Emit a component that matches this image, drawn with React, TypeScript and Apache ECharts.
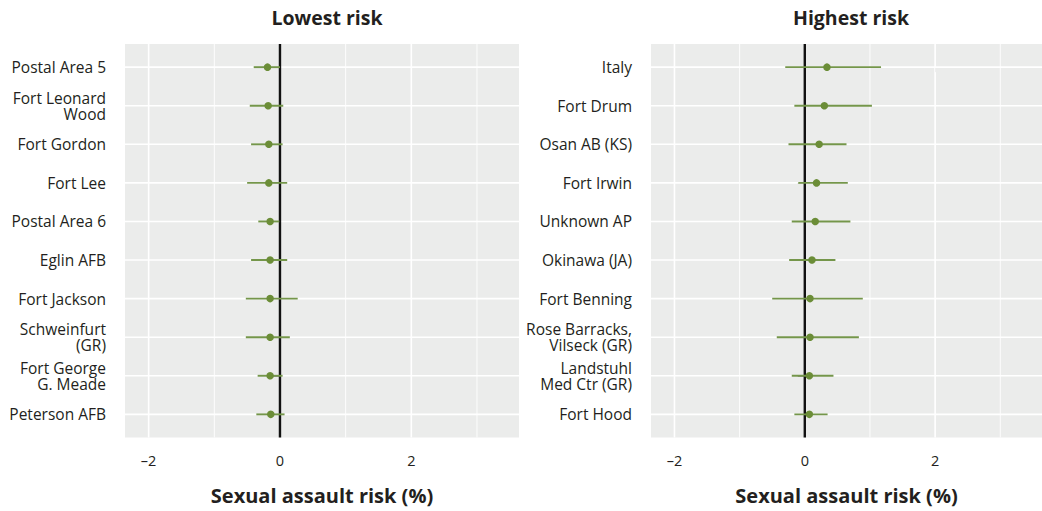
import React, { useEffect, useRef } from "react";
import * as echarts from "echarts";

const lowCategories = [
  "Postal Area 5",
  "Fort Leonard\nWood",
  "Fort Gordon",
  "Fort Lee",
  "Postal Area 6",
  "Eglin AFB",
  "Fort Jackson",
  "Schweinfurt\n(GR)",
  "Fort George\nG. Meade",
  "Peterson AFB",
];
const lowEstimate = [-0.19, -0.18, -0.17, -0.17, -0.15, -0.15, -0.15, -0.15, -0.15, -0.14];
const lowLower = [-0.4, -0.46, -0.44, -0.5, -0.33, -0.44, -0.52, -0.52, -0.34, -0.36];
const lowUpper = [0.0, 0.05, 0.04, 0.11, -0.01, 0.11, 0.27, 0.15, 0.04, 0.07];

const highCategories = [
  "Italy",
  "Fort Drum",
  "Osan AB (KS)",
  "Fort Irwin",
  "Unknown AP",
  "Okinawa (JA)",
  "Fort Benning",
  "Rose Barracks,\nVilseck (GR)",
  "Landstuhl\nMed Ctr (GR)",
  "Fort Hood",
];
const highEstimate = [0.34, 0.3, 0.22, 0.18, 0.16, 0.11, 0.08, 0.08, 0.07, 0.07];
const highLower = [-0.3, -0.16, -0.25, -0.1, -0.2, -0.24, -0.5, -0.43, -0.2, -0.16];
const highUpper = [1.17, 1.03, 0.64, 0.66, 0.7, 0.47, 0.89, 0.83, 0.44, 0.35];

const panelTitles = ["Lowest risk", "Highest risk"];
const xAxisTitle = "Sexual assault risk (%)";
const majorTicks = [-2, 0, 2];
const minorTicks = [-1, 1, 3];
const xMin = -2.36;
const xMax = 3.64;
const yMin = -0.6;
const yMax = 9.6;

const FONT = "'Open Sans', 'Noto Sans', sans-serif";
const TEXT = "#231f20";
const GREEN = "#6b8d37";
const BAR = "#74964a";
const BG = "#ebeceb";

function hLineSeries(idx: number, cats: string[]) {
  return {
    type: "custom",
    xAxisIndex: idx,
    yAxisIndex: idx,
    silent: true,
    z: 1,
    data: cats.map((_, i) => [0, i]),
    renderItem: (params: any, api: any) => {
      const cs = params.coordSys;
      const y = api.coord([0, api.value(1)])[1];
      return {
        type: "line",
        shape: { x1: cs.x, y1: y, x2: cs.x + cs.width, y2: y },
        style: { stroke: "#ffffff", lineWidth: 1.6 },
      };
    },
  };
}

function vLineSeries(idx: number, values: number[], width: number, color: string, z: number) {
  return {
    type: "custom",
    xAxisIndex: idx,
    yAxisIndex: idx,
    silent: true,
    z,
    data: values.map((v) => [v, 0]),
    renderItem: (params: any, api: any) => {
      const cs = params.coordSys;
      const x = api.coord([api.value(0), 0])[0];
      return {
        type: "line",
        shape: { x1: x, y1: cs.y, x2: x, y2: cs.y + cs.height },
        style: { stroke: color, lineWidth: width },
      };
    },
  };
}

function errorSeries(idx: number, lo: number[], hi: number[]) {
  return {
    type: "custom",
    xAxisIndex: idx,
    yAxisIndex: idx,
    silent: true,
    z: 4,
    data: lo.map((l, i) => [l, hi[i], i]),
    renderItem: (_params: any, api: any) => {
      const p1 = api.coord([api.value(0), api.value(2)]);
      const p2 = api.coord([api.value(1), api.value(2)]);
      return {
        type: "line",
        shape: { x1: p1[0], y1: p1[1], x2: p2[0], y2: p2[1] },
        style: { stroke: BAR, lineWidth: 1.9 },
      };
    },
  };
}

function pointSeries(idx: number, est: number[]) {
  return {
    type: "scatter",
    xAxisIndex: idx,
    yAxisIndex: idx,
    silent: true,
    z: 5,
    symbol: "circle",
    symbolSize: 7.5,
    itemStyle: { color: GREEN, opacity: 1 },
    data: est.map((v, i) => [v, i]),
  };
}

function xAxisFor(idx: number) {
  return {
    type: "value",
    gridIndex: idx,
    min: xMin,
    max: xMax,
    position: "bottom",
    offset: 4,
    splitLine: { show: false },
    axisLine: { show: false },
    axisTick: {
      show: true,
      customValues: majorTicks,
      length: 5,
      lineStyle: { color: "#333333", width: 1 },
    },
    axisLabel: {
      customValues: majorTicks,
      formatter: (v: number) => (v < 0 ? "\u2013" : "") + Math.abs(v),
      margin: 11,
      fontSize: 14.5,
      fontFamily: FONT,
      color: TEXT,
    },
    name: xAxisTitle,
    nameLocation: "middle",
    nameGap: 44,
    nameTextStyle: { fontSize: 20, fontWeight: "bold", fontFamily: FONT, color: TEXT },
  };
}

function yAxisFor(idx: number, cats: string[]) {
  const pos = cats.map((_, i) => i);
  return {
    type: "value",
    gridIndex: idx,
    min: yMin,
    max: yMax,
    inverse: true,
    splitLine: { show: false },
    axisLine: { show: false },
    axisTick: {
      show: true,
      customValues: pos,
      length: 7,
      lineStyle: { color: "#333333", width: 1 },
    },
    axisLabel: {
      customValues: pos,
      formatter: (v: number) => cats[Math.round(v)],
      margin: 19,
      fontSize: 15.5,
      lineHeight: 16,
      fontFamily: FONT,
      color: TEXT,
      align: "right",
    },
  };
}

export default function App() {
  const ref = useRef<HTMLDivElement>(null);
  useEffect(() => {
    document.body.style.margin = "0";
    if (!ref.current) return;
    const chart = echarts.init(ref.current, null, { renderer: "svg" });
    const titleStyle = { fontSize: 19.5, fontWeight: "bold", fontFamily: FONT, color: TEXT };
    chart.setOption({
      animation: false,
      backgroundColor: "#ffffff",
      title: [
        { text: panelTitles[0], left: 322, top: 2, textAlign: "center", textStyle: titleStyle },
        { text: panelTitles[1], left: 846, top: 2, textAlign: "center", textStyle: titleStyle },
      ],
      grid: [
        { left: 125, width: 394, top: 44, bottom: 73.5, show: true, backgroundColor: BG, borderWidth: 0 },
        { left: 651, right: 0, top: 44, bottom: 73.5, show: true, backgroundColor: BG, borderWidth: 0 },
      ],
      xAxis: [xAxisFor(0), xAxisFor(1)],
      yAxis: [yAxisFor(0, lowCategories), yAxisFor(1, highCategories)],
      series: [
        hLineSeries(0, lowCategories),
        vLineSeries(0, majorTicks, 1.6, "#ffffff", 1),
        vLineSeries(0, minorTicks, 0.9, "#ffffff", 1),
        vLineSeries(0, [0], 2.4, "#111111", 3),
        errorSeries(0, lowLower, lowUpper),
        pointSeries(0, lowEstimate),
        hLineSeries(1, highCategories),
        vLineSeries(1, majorTicks, 1.6, "#ffffff", 1),
        vLineSeries(1, minorTicks, 0.9, "#ffffff", 1),
        vLineSeries(1, [0], 2.4, "#111111", 3),
        errorSeries(1, highLower, highUpper),
        pointSeries(1, highEstimate),
      ],
    });
    return () => chart.dispose();
  }, []);
  return (
    <div
      ref={ref}
      style={{ position: "fixed", left: 0, top: 0, width: 1042, height: 511 }}
    />
  );
}
